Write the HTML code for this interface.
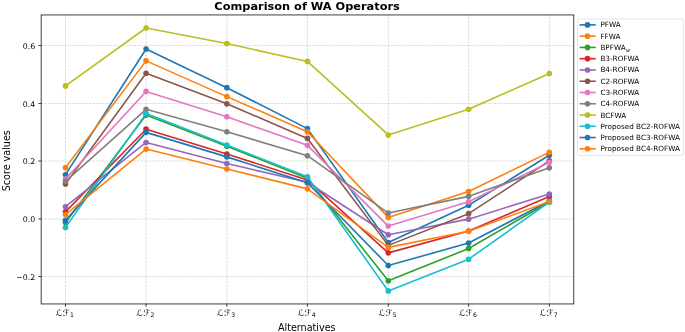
<!DOCTYPE html>
<html lang="en"><head><meta charset="utf-8"><title>Comparison of WA Operators</title>
<style>html,body{margin:0;padding:0;background:#fff}body{width:685px;height:332px;overflow:hidden}svg{display:block}text{font-family:"DejaVu Sans","Liberation Sans",sans-serif;fill:#000}</style></head>
<body>
<svg width="685" height="332" viewBox="0 0 685 332">
<rect width="685" height="332" fill="#fff"/>
<g stroke="#b0b0b0" stroke-opacity="0.6" stroke-width="0.75" stroke-dasharray="2.4 1.03" fill="none">
<path d="M65.50 303.95V14.95"/><path d="M146.07 303.95V14.95"/><path d="M226.84 303.95V14.95"/><path d="M307.41 303.95V14.95"/><path d="M388.28 303.95V14.95"/><path d="M468.60 303.95V14.95"/><path d="M549.32 303.95V14.95"/><path d="M41.15 276.51H573.8"/><path d="M41.15 219.00H573.8"/><path d="M41.15 161.04H573.8"/><path d="M41.15 103.53H573.8"/><path d="M41.15 45.57H573.8"/>
</g>
<g stroke="#000" stroke-width="0.75" fill="none">
<path d="M65.50 303.95v2.8"/><path d="M146.07 303.95v2.8"/><path d="M226.84 303.95v2.8"/><path d="M307.41 303.95v2.8"/><path d="M388.28 303.95v2.8"/><path d="M468.60 303.95v2.8"/><path d="M549.32 303.95v2.8"/><path d="M41.15 276.51h-2.8"/><path d="M41.15 219.00h-2.8"/><path d="M41.15 161.04h-2.8"/><path d="M41.15 103.53h-2.8"/><path d="M41.15 45.57h-2.8"/>
</g>
<defs><clipPath id="c"><rect x="41.15" y="14.95" width="532.65" height="289.00"/></clipPath></defs>
<g clip-path="url(#c)">
<g fill="#1f77b4" stroke="#1f77b4"><polyline points="65.50,174.74 146.07,49.04 226.84,87.67 307.41,128.61 388.28,242.49 468.60,205.30 549.32,155.14" fill="none" stroke-width="1.6" stroke-linejoin="round" stroke-linecap="square"/><circle cx="65.50" cy="174.74" r="2.82" stroke="none"/><circle cx="146.07" cy="49.04" r="2.82" stroke="none"/><circle cx="226.84" cy="87.67" r="2.82" stroke="none"/><circle cx="307.41" cy="128.61" r="2.82" stroke="none"/><circle cx="388.28" cy="242.49" r="2.82" stroke="none"/><circle cx="468.60" cy="205.30" r="2.82" stroke="none"/><circle cx="549.32" cy="155.14" r="2.82" stroke="none"/></g>
<g fill="#ff7f0e" stroke="#ff7f0e"><polyline points="65.50,167.68 146.07,60.86 226.84,96.61 307.41,131.78 388.28,217.41 468.60,191.46 549.32,152.25" fill="none" stroke-width="1.6" stroke-linejoin="round" stroke-linecap="square"/><circle cx="65.50" cy="167.68" r="2.82" stroke="none"/><circle cx="146.07" cy="60.86" r="2.82" stroke="none"/><circle cx="226.84" cy="96.61" r="2.82" stroke="none"/><circle cx="307.41" cy="131.78" r="2.82" stroke="none"/><circle cx="388.28" cy="217.41" r="2.82" stroke="none"/><circle cx="468.60" cy="191.46" r="2.82" stroke="none"/><circle cx="549.32" cy="152.25" r="2.82" stroke="none"/></g>
<g fill="#2ca02c" stroke="#2ca02c"><polyline points="65.50,222.60 146.07,115.06 226.84,146.20 307.41,178.20 388.28,280.83 468.60,248.54 549.32,201.84" fill="none" stroke-width="1.6" stroke-linejoin="round" stroke-linecap="square"/><circle cx="65.50" cy="222.60" r="2.82" stroke="none"/><circle cx="146.07" cy="115.06" r="2.82" stroke="none"/><circle cx="226.84" cy="146.20" r="2.82" stroke="none"/><circle cx="307.41" cy="178.20" r="2.82" stroke="none"/><circle cx="388.28" cy="280.83" r="2.82" stroke="none"/><circle cx="468.60" cy="248.54" r="2.82" stroke="none"/><circle cx="549.32" cy="201.84" r="2.82" stroke="none"/></g>
<g fill="#d62728" stroke="#d62728"><polyline points="65.50,211.93 146.07,129.19 226.84,153.98 307.41,179.93 388.28,252.87 468.60,230.96 549.32,196.65" fill="none" stroke-width="1.6" stroke-linejoin="round" stroke-linecap="square"/><circle cx="65.50" cy="211.93" r="2.82" stroke="none"/><circle cx="146.07" cy="129.19" r="2.82" stroke="none"/><circle cx="226.84" cy="153.98" r="2.82" stroke="none"/><circle cx="307.41" cy="179.93" r="2.82" stroke="none"/><circle cx="388.28" cy="252.87" r="2.82" stroke="none"/><circle cx="468.60" cy="230.96" r="2.82" stroke="none"/><circle cx="549.32" cy="196.65" r="2.82" stroke="none"/></g>
<g fill="#9467bd" stroke="#9467bd"><polyline points="65.50,206.74 146.07,142.45 226.84,163.50 307.41,182.24 388.28,234.71 468.60,219.14 549.32,194.06" fill="none" stroke-width="1.6" stroke-linejoin="round" stroke-linecap="square"/><circle cx="65.50" cy="206.74" r="2.82" stroke="none"/><circle cx="146.07" cy="142.45" r="2.82" stroke="none"/><circle cx="226.84" cy="163.50" r="2.82" stroke="none"/><circle cx="307.41" cy="182.24" r="2.82" stroke="none"/><circle cx="388.28" cy="234.71" r="2.82" stroke="none"/><circle cx="468.60" cy="219.14" r="2.82" stroke="none"/><circle cx="549.32" cy="194.06" r="2.82" stroke="none"/></g>
<g fill="#8c564b" stroke="#8c564b"><polyline points="65.50,183.97 146.07,73.26 226.84,103.82 307.41,138.41 388.28,245.37 468.60,213.66 549.32,160.90" fill="none" stroke-width="1.6" stroke-linejoin="round" stroke-linecap="square"/><circle cx="65.50" cy="183.97" r="2.82" stroke="none"/><circle cx="146.07" cy="73.26" r="2.82" stroke="none"/><circle cx="226.84" cy="103.82" r="2.82" stroke="none"/><circle cx="307.41" cy="138.41" r="2.82" stroke="none"/><circle cx="388.28" cy="245.37" r="2.82" stroke="none"/><circle cx="468.60" cy="213.66" r="2.82" stroke="none"/><circle cx="549.32" cy="160.90" r="2.82" stroke="none"/></g>
<g fill="#e377c2" stroke="#e377c2"><polyline points="65.50,179.06 146.07,91.42 226.84,116.79 307.41,145.33 388.28,226.06 468.60,201.84 549.32,162.34" fill="none" stroke-width="1.6" stroke-linejoin="round" stroke-linecap="square"/><circle cx="65.50" cy="179.06" r="2.82" stroke="none"/><circle cx="146.07" cy="91.42" r="2.82" stroke="none"/><circle cx="226.84" cy="116.79" r="2.82" stroke="none"/><circle cx="307.41" cy="145.33" r="2.82" stroke="none"/><circle cx="388.28" cy="226.06" r="2.82" stroke="none"/><circle cx="468.60" cy="201.84" r="2.82" stroke="none"/><circle cx="549.32" cy="162.34" r="2.82" stroke="none"/></g>
<g fill="#7f7f7f" stroke="#7f7f7f"><polyline points="65.50,181.37 146.07,109.30 226.84,131.78 307.41,155.71 388.28,213.08 468.60,196.36 549.32,167.82" fill="none" stroke-width="1.6" stroke-linejoin="round" stroke-linecap="square"/><circle cx="65.50" cy="181.37" r="2.82" stroke="none"/><circle cx="146.07" cy="109.30" r="2.82" stroke="none"/><circle cx="226.84" cy="131.78" r="2.82" stroke="none"/><circle cx="307.41" cy="155.71" r="2.82" stroke="none"/><circle cx="388.28" cy="213.08" r="2.82" stroke="none"/><circle cx="468.60" cy="196.36" r="2.82" stroke="none"/><circle cx="549.32" cy="167.82" r="2.82" stroke="none"/></g>
<g fill="#bcbd22" stroke="#bcbd22"><polyline points="65.50,85.94 146.07,28.00 226.84,43.56 307.41,61.44 388.28,134.95 468.60,109.30 549.32,73.55" fill="none" stroke-width="1.6" stroke-linejoin="round" stroke-linecap="square"/><circle cx="65.50" cy="85.94" r="2.82" stroke="none"/><circle cx="146.07" cy="28.00" r="2.82" stroke="none"/><circle cx="226.84" cy="43.56" r="2.82" stroke="none"/><circle cx="307.41" cy="61.44" r="2.82" stroke="none"/><circle cx="388.28" cy="134.95" r="2.82" stroke="none"/><circle cx="468.60" cy="109.30" r="2.82" stroke="none"/><circle cx="549.32" cy="73.55" r="2.82" stroke="none"/></g>
<g fill="#17becf" stroke="#17becf"><polyline points="65.50,227.50 146.07,113.62 226.84,145.05 307.41,176.76 388.28,290.93 468.60,259.21 549.32,202.13" fill="none" stroke-width="1.6" stroke-linejoin="round" stroke-linecap="square"/><circle cx="65.50" cy="227.50" r="2.82" stroke="none"/><circle cx="146.07" cy="113.62" r="2.82" stroke="none"/><circle cx="226.84" cy="145.05" r="2.82" stroke="none"/><circle cx="307.41" cy="176.76" r="2.82" stroke="none"/><circle cx="388.28" cy="290.93" r="2.82" stroke="none"/><circle cx="468.60" cy="259.21" r="2.82" stroke="none"/><circle cx="549.32" cy="202.13" r="2.82" stroke="none"/></g>
<g fill="#1f77b4" stroke="#1f77b4"><polyline points="65.50,220.29 146.07,132.36 226.84,156.87 307.41,182.81 388.28,265.55 468.60,243.07 549.32,200.98" fill="none" stroke-width="1.6" stroke-linejoin="round" stroke-linecap="square"/><circle cx="65.50" cy="220.29" r="2.82" stroke="none"/><circle cx="146.07" cy="132.36" r="2.82" stroke="none"/><circle cx="226.84" cy="156.87" r="2.82" stroke="none"/><circle cx="307.41" cy="182.81" r="2.82" stroke="none"/><circle cx="388.28" cy="265.55" r="2.82" stroke="none"/><circle cx="468.60" cy="243.07" r="2.82" stroke="none"/><circle cx="549.32" cy="200.98" r="2.82" stroke="none"/></g>
<g fill="#ff7f0e" stroke="#ff7f0e"><polyline points="65.50,214.53 146.07,149.08 226.84,168.97 307.41,188.87 388.28,247.39 468.60,231.25 549.32,201.55" fill="none" stroke-width="1.6" stroke-linejoin="round" stroke-linecap="square"/><circle cx="65.50" cy="214.53" r="2.82" stroke="none"/><circle cx="146.07" cy="149.08" r="2.82" stroke="none"/><circle cx="226.84" cy="168.97" r="2.82" stroke="none"/><circle cx="307.41" cy="188.87" r="2.82" stroke="none"/><circle cx="388.28" cy="247.39" r="2.82" stroke="none"/><circle cx="468.60" cy="231.25" r="2.82" stroke="none"/><circle cx="549.32" cy="201.55" r="2.82" stroke="none"/></g>
</g>
<rect x="41.15" y="14.95" width="532.65" height="289.00" fill="none" stroke="#000" stroke-width="0.75"/>
<g font-size="7.8" text-anchor="end">
<text x="35.25" y="279.56">−0.2</text><text x="35.25" y="222.05">0.0</text><text x="35.25" y="164.09">0.2</text><text x="35.25" y="106.58">0.4</text><text x="35.25" y="48.62">0.6</text>
</g>
<g font-size="7.8" text-anchor="middle">
<text x="64.90" y="316.1" font-size="8.8" letter-spacing="0.6" font-family="&quot;DejaVu Sans&quot;,sans-serif">ℒℱ<tspan font-size="6.1" dx="-0.6" dy="0.65" letter-spacing="0">1</tspan></text><text x="145.47" y="316.1" font-size="8.8" letter-spacing="0.6" font-family="&quot;DejaVu Sans&quot;,sans-serif">ℒℱ<tspan font-size="6.1" dx="-0.6" dy="0.65" letter-spacing="0">2</tspan></text><text x="226.24" y="316.1" font-size="8.8" letter-spacing="0.6" font-family="&quot;DejaVu Sans&quot;,sans-serif">ℒℱ<tspan font-size="6.1" dx="-0.6" dy="0.65" letter-spacing="0">3</tspan></text><text x="306.81" y="316.1" font-size="8.8" letter-spacing="0.6" font-family="&quot;DejaVu Sans&quot;,sans-serif">ℒℱ<tspan font-size="6.1" dx="-0.6" dy="0.65" letter-spacing="0">4</tspan></text><text x="387.68" y="316.1" font-size="8.8" letter-spacing="0.6" font-family="&quot;DejaVu Sans&quot;,sans-serif">ℒℱ<tspan font-size="6.1" dx="-0.6" dy="0.65" letter-spacing="0">5</tspan></text><text x="468.00" y="316.1" font-size="8.8" letter-spacing="0.6" font-family="&quot;DejaVu Sans&quot;,sans-serif">ℒℱ<tspan font-size="6.1" dx="-0.6" dy="0.65" letter-spacing="0">6</tspan></text><text x="548.72" y="316.1" font-size="8.8" letter-spacing="0.6" font-family="&quot;DejaVu Sans&quot;,sans-serif">ℒℱ<tspan font-size="6.1" dx="-0.6" dy="0.65" letter-spacing="0">7</tspan></text>
</g>
<text x="306.77" y="330.9" font-size="9.62" text-anchor="middle">Alternatives</text>
<text transform="translate(9.7 160.75) rotate(-90)" font-size="9.62" text-anchor="middle">Score values</text>
<text x="307.07" y="9.6" font-size="11.35" font-weight="bold" text-anchor="middle">Comparison of WA Operators</text>
<rect x="577.6" y="18.95" width="106.00" height="136.50" rx="1.6" fill="#fff" fill-opacity="0.8" stroke="#ccc" stroke-opacity="0.8" stroke-width="0.7"/>
<g font-size="7.26">
<path d="M579.55 24.90h16.2" stroke="#1f77b4" stroke-width="1.6" fill="none"/><circle cx="587.5" cy="24.90" r="2.82" fill="#1f77b4"/><text x="600.4" y="27.40">PFWA</text>
<path d="M579.55 36.16h16.2" stroke="#ff7f0e" stroke-width="1.6" fill="none"/><circle cx="587.5" cy="36.16" r="2.82" fill="#ff7f0e"/><text x="600.4" y="38.66">FFWA</text>
<path d="M579.55 47.43h16.2" stroke="#2ca02c" stroke-width="1.6" fill="none"/><circle cx="587.5" cy="47.43" r="2.82" fill="#2ca02c"/><text x="600.4" y="49.93">BPFWA<tspan font-size="5.08" dx="0.4" dy="1.7" font-style="italic">w</tspan></text>
<path d="M579.55 58.69h16.2" stroke="#d62728" stroke-width="1.6" fill="none"/><circle cx="587.5" cy="58.69" r="2.82" fill="#d62728"/><text x="600.4" y="61.19">B3-ROFWA</text>
<path d="M579.55 69.96h16.2" stroke="#9467bd" stroke-width="1.6" fill="none"/><circle cx="587.5" cy="69.96" r="2.82" fill="#9467bd"/><text x="600.4" y="72.46">B4-ROFWA</text>
<path d="M579.55 81.22h16.2" stroke="#8c564b" stroke-width="1.6" fill="none"/><circle cx="587.5" cy="81.22" r="2.82" fill="#8c564b"/><text x="600.4" y="83.72">C2-ROFWA</text>
<path d="M579.55 92.48h16.2" stroke="#e377c2" stroke-width="1.6" fill="none"/><circle cx="587.5" cy="92.48" r="2.82" fill="#e377c2"/><text x="600.4" y="94.98">C3-ROFWA</text>
<path d="M579.55 103.75h16.2" stroke="#7f7f7f" stroke-width="1.6" fill="none"/><circle cx="587.5" cy="103.75" r="2.82" fill="#7f7f7f"/><text x="600.4" y="106.25">C4-ROFWA</text>
<path d="M579.55 115.01h16.2" stroke="#bcbd22" stroke-width="1.6" fill="none"/><circle cx="587.5" cy="115.01" r="2.82" fill="#bcbd22"/><text x="600.4" y="117.51">BCFWA</text>
<path d="M579.55 126.28h16.2" stroke="#17becf" stroke-width="1.6" fill="none"/><circle cx="587.5" cy="126.28" r="2.82" fill="#17becf"/><text x="600.4" y="128.78">Proposed BC2-ROFWA</text>
<path d="M579.55 137.54h16.2" stroke="#1f77b4" stroke-width="1.6" fill="none"/><circle cx="587.5" cy="137.54" r="2.82" fill="#1f77b4"/><text x="600.4" y="140.04">Proposed BC3-ROFWA</text>
<path d="M579.55 148.80h16.2" stroke="#ff7f0e" stroke-width="1.6" fill="none"/><circle cx="587.5" cy="148.80" r="2.82" fill="#ff7f0e"/><text x="600.4" y="151.30">Proposed BC4-ROFWA</text>
</g>
</svg>
</body></html>
